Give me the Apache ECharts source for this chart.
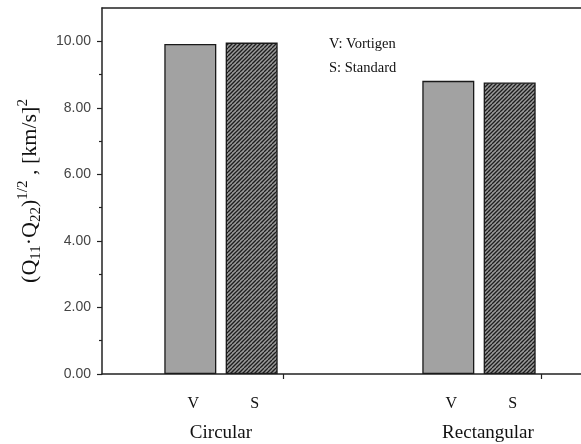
<!DOCTYPE html>
<html>
<head>
<meta charset="utf-8">
<script src="https://cdn.jsdelivr.net/npm/echarts@6/dist/echarts.min.js"></script>
<style>html,body{margin:0;padding:0;background:#fff}#c{width:581px;height:444px}</style>
</head>
<body>
<div id="c"></div>
<script>
// ---- data ----
const groups = ['Circular', 'Rectangular'];
const seriesNames = ['V', 'S'];
const vortigenValues = [9.92, 8.81];
const standardValues = [9.96, 8.76];
const yTickValues = [0, 2, 4, 6, 8, 10];
const yMinorTickValues = [1, 3, 5, 7, 9];
const xTickValues = [0.24, 1.24];
const legendLines = ['V: Vortigen', 'S: Standard'];

// ---- hatch pattern ----
function hatch() {
  const c = document.createElement('canvas');
  c.width = 8; c.height = 8;
  const g = c.getContext('2d');
  g.fillStyle = '#9a9a9a';
  g.fillRect(0, 0, 8, 8);
  g.strokeStyle = '#1e1e1e';
  g.lineWidth = 1.3;
  for (let k = -8; k <= 16; k += 4) {
    g.beginPath(); g.moveTo(k, 8); g.lineTo(k + 8, 0); g.stroke();
  }
  return c;
}

const serif = '"Liberation Serif", "Times New Roman", serif';
const sans = '"Liberation Sans", Arial, sans-serif';
const chart = echarts.init(document.getElementById('c'), null, {renderer: 'canvas'});

const xMin = -0.4612, xMax = 1.3954;
const barLabel = {
  show: true, position: 'bottom', distance: 22, offset: [3, 0],
  fontFamily: serif, fontSize: 16, color: '#111',
  formatter: p => p.seriesName
};
const lineStyle = {color: '#222', width: 1.5};

chart.setOption({
  animation: false,
  grid: {left: 102, top: 8, right: 0, bottom: 70},
  xAxis: [{
    type: 'value', min: xMin, max: xMax,
    axisLine: {show: true, onZero: false, lineStyle: lineStyle},
    axisTick: {show: true, customValues: xTickValues, length: 5, lineStyle: {color: '#222', width: 1.2}},
    splitLine: {show: false},
    axisLabel: {
      show: true, customValues: groups.map((g, i) => i), margin: 50,
      fontFamily: serif, fontSize: 19, color: '#111',
      formatter: v => { const i = Math.round(v); return i === 1 ? '{r|' + groups[i] + '}' : groups[i]; },
      rich: {r: {fontFamily: serif, fontSize: 19, color: '#111', padding: [0, 0, 0, 18]}}
    }
  }, {
    type: 'value', min: xMin, max: xMax, position: 'top',
    axisLine: {show: true, onZero: false, lineStyle: lineStyle},
    axisTick: {show: false}, axisLabel: {show: false}, splitLine: {show: false}
  }],
  yAxis: [{
    type: 'value', min: 0, max: 11,
    axisLine: {show: true, onZero: false, lineStyle: lineStyle},
    axisTick: {show: true, customValues: yTickValues, length: 5, lineStyle: {color: '#222', width: 1.2}},
    splitLine: {show: false},
    axisLabel: {customValues: yTickValues, margin: 11, fontFamily: sans, fontSize: 14, color: '#444', formatter: v => v.toFixed(2)},
    name: '{p|(Q}{sub|11}{p|·Q}{sub|22}{p|)}{sup|1/2}{p| , [km/s]}{sup|2}',
    nameLocation: 'middle', nameRotate: 90, nameGap: 58,
    nameTextStyle: {
      fontFamily: serif, fontSize: 22, color: '#111', lineHeight: 28,
      rich: {
        p: {fontFamily: serif, fontSize: 22, color: '#111', lineHeight: 28},
        sub: {fontFamily: serif, fontSize: 15, color: '#111', lineHeight: 15, verticalAlign: 'bottom'},
        sup: {fontFamily: serif, fontSize: 15, color: '#111', lineHeight: 15, verticalAlign: 'top'}
      }
    }
  }, {
    type: 'value', min: 0, max: 11, position: 'left',
    axisLine: {show: false, onZero: false},
    axisTick: {show: true, customValues: yMinorTickValues, length: 3, lineStyle: {color: '#222', width: 1.2}},
    axisLabel: {show: false},
    splitLine: {show: false}
  }],
  graphic: legendLines.map((t, i) => ({
    type: 'text', left: 329, top: 37 + i * 24,
    style: {text: t, font: '14.5px ' + serif, fill: '#111'}
  })),
  series: [{
    name: seriesNames[0], type: 'bar', barWidth: 52, barGap: '18%',
    data: vortigenValues.map((v, i) => [i, v]),
    itemStyle: {color: '#a2a2a2', borderColor: '#1a1a1a', borderWidth: 1.3},
    label: barLabel
  }, {
    name: seriesNames[1], type: 'bar', barWidth: 52, barGap: '18%',
    data: standardValues.map((v, i) => [i, v]),
    itemStyle: {color: {image: hatch(), repeat: 'repeat'}, borderColor: '#1a1a1a', borderWidth: 1.3},
    label: barLabel
  }]
});
</script>
</body>
</html>
